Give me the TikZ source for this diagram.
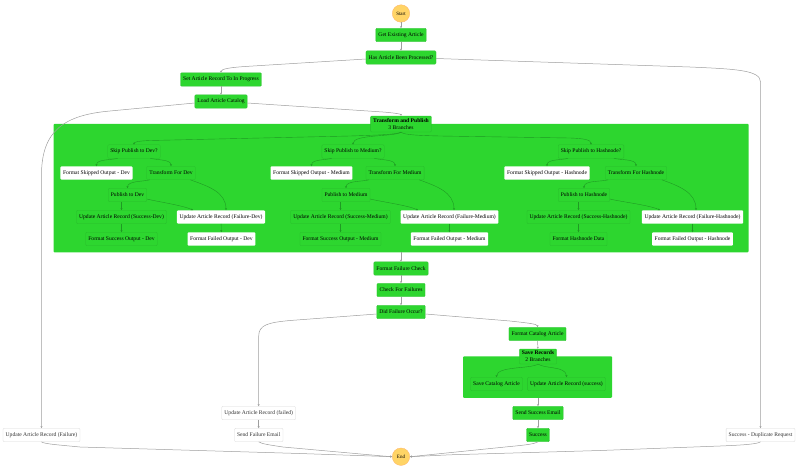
\documentclass[tikz,border=0pt]{standalone}
\usepackage{fontspec}
\setmainfont{Liberation Serif}
\usepackage{tikz}
\usetikzlibrary{arrows.meta}
\definecolor{runGreen}{HTML}{2DD62F}
\definecolor{edgeGreen}{HTML}{1F9A23}
\definecolor{boxGreen}{HTML}{28BC2B}
\definecolor{startYellow}{HTML}{FFD466}

\begin{document}
\begin{tikzpicture}[x=1pt,y=-1pt,
    every node/.style={font=\fontsize{5.6}{7}\selectfont,inner xsep=2.6pt,inner ysep=0pt,minimum height=13.4pt},
    main node/.style={draw=boxGreen,line width=0.3pt,fill=runGreen,rounded corners=1pt},
    sub node/.style={draw=boxGreen,line width=0.3pt,fill=runGreen,rounded corners=1pt},
    done node/.style={fill=white,rounded corners=1pt},
    idle node/.style={draw=black!15,line width=0.3pt,fill=white,rounded corners=1pt,text=black!80},
    end node/.style={circle,draw=orange!60,line width=0.3pt,fill=startYellow,minimum size=17.5pt,inner sep=0pt,font=\fontsize{5}{6}\selectfont},
    group node/.style={fill=runGreen,rounded corners=1pt,minimum height=0pt},
    flow/.style={-{Stealth[length=2pt,width=2pt]},black!38,line width=0.5pt},
    subflow/.style={-{Stealth[length=2pt,width=2pt]},edgeGreen,line width=0.4pt}]
      \useasboundingbox (0,0) rectangle (799,469);

      % containers
      \node[group node,minimum width=695pt,minimum height=128.5pt] (TPbox) at (401,188) {};
      \node[group node,minimum width=149pt,minimum height=41.5pt] (SRbox) at (537.5,377) {};

      % top
      \node[end node] (Start) at (401,13.5) {Start};
      \node[main node] (GetArticle) at (401,35) {Get Existing Article};
      \node[main node] (HasBeen) at (401,57.5) {Has Article Been Processed?};
      \node[main node] (SetProgress) at (221,79.5) {Set Article Record To In Progress};
      \node[main node] (LoadCatalog) at (221,101.5) {Load Article Catalog};
      \node[main node,align=center,minimum height=16pt] (Transform) at (401,124) {\textbf{Transform and Publish}\\3 Branches};

      % dev
      \node[sub node] (SkipDev) at (134,151.5) {Skip Publish to Dev?};
      \node[done node] (SkippedDev) at (96.5,173) {Format Skipped Output - Dev};
      \node[sub node] (TransDev) at (171,173) {Transform For Dev};
      \node[sub node] (PubDev) at (127.5,195) {Publish to Dev};
      \node[sub node] (OkDev) at (121.5,217) {Update Article Record (Success-Dev)};
      \node[done node] (BadDev) at (221,217) {Update Article Record (Failure-Dev)};
      \node[sub node] (OkOutDev) at (121.5,239) {Format Success Output - Dev};
      \node[done node] (BadOutDev) at (221.5,239) {Format Failed Output - Dev};

      % medium
      \node[sub node] (SkipMed) at (353,151.5) {Skip Publish to Medium?};
      \node[done node] (SkippedMed) at (311.5,173) {Format Skipped Output - Medium};
      \node[sub node] (TransMed) at (395,173) {Transform For Medium};
      \node[sub node] (PubMed) at (346,195) {Publish to Medium};
      \node[sub node] (OkMed) at (340.5,217) {Update Article Record (Success-Medium)};
      \node[done node] (BadMed) at (449.5,217) {Update Article Record (Failure-Medium)};
      \node[sub node] (OkOutMed) at (340.5,239) {Format Success Output - Medium};
      \node[done node] (BadOutMed) at (449.5,239) {Format Failed Output - Medium};

      % hashnode
      \node[sub node] (SkipHash) at (591,151.5) {Skip Publish to Hashnode?};
      \node[done node] (SkippedHash) at (547,173) {Format Skipped Output - Hashnode};
      \node[sub node] (TransHash) at (636,173) {Transform For Hashnode};
      \node[sub node] (PubHash) at (584,195) {Publish to Hashnode};
      \node[sub node] (OkHash) at (578.5,217) {Update Article Record (Success-Hashnode)};
      \node[done node] (BadHash) at (692.5,217) {Update Article Record (Failure-Hashnode)};
      \node[sub node] (OkOutHash) at (578.5,239) {Format Hashnode Data};
      \node[done node] (BadOutHash) at (692.5,239) {Format Failed Output - Hashnode};

      % after the branches
      \node[main node] (FailCheck) at (401,268.5) {Format Failure Check};
      \node[main node] (CheckFail) at (401,290) {Check For Failures};
      \node[main node] (DidFail) at (401,312) {Did Failure Occur?};
      \node[main node] (FormatCat) at (537.5,334) {Format Catalog Article};
      \node[main node,align=center,minimum height=15pt] (SaveRec) at (538,356.5) {\textbf{Save Records}\\2 Branches};
      \node[sub node] (SaveCat) at (496.5,384) {Save Catalog Article};
      \node[sub node] (SaveOk) at (566.5,384) {Update Article Record (success)};
      \node[main node] (SendOk) at (538,413) {Send Success Email};
      \node[main node] (Success) at (538,435) {Success};
      \node[idle node] (RecFailed) at (258.7,413) {Update Article Record (failed)};
      \node[idle node] (SendFail) at (258.7,435) {Send Failure Email};
      \node[idle node] (RecFailure) at (41.5,435) {Update Article Record (Failure)};
      \node[idle node] (Duplicate) at (760.5,435) {Success - Duplicate Request};
      \node[end node] (End) at (401,456.7) {End};

      \path[flow] (Start) edge (GetArticle);
      \path[flow] (GetArticle) edge (HasBeen);
      \path[flow] (SetProgress) edge (LoadCatalog);
      \path[flow] (FailCheck) edge (CheckFail);
      \path[flow] (CheckFail) edge (DidFail);
      \path[flow] (TPbox.south) edge (FailCheck);
      \path[flow] (FormatCat) edge (SaveRec);
      \path[flow] (SRbox.south -| SendOk) edge (SendOk);
      \path[flow] (SendOk) edge (Success);
      \path[flow] (RecFailed) edge (SendFail);
      \draw[flow] ([yshift=-1.5pt]HasBeen.west) -- (245,66.5) .. controls (230,67.5) and (221,69) .. (SetProgress.north);
      \draw[flow] ([yshift=-1pt]HasBeen.east) -- (690,67) .. controls (735,69) and (760.5,70) .. (760.5,82) -- (Duplicate.north);
      \draw[flow] ([yshift=-1.5pt]LoadCatalog.west) -- (110,111) .. controls (65,115) and (41.5,130) .. (41.5,175) -- (RecFailure.north);
      \draw[flow] ([yshift=-1.5pt]LoadCatalog.east) -- (383,112) .. controls (395,113) and (401,114) .. (Transform.north);
      \draw[flow] ([yshift=-2pt]DidFail.west) -- (290,320.5) .. controls (268,322.5) and (258.7,325) .. (258.7,336) -- (RecFailed.north);
      \draw[flow] ([yshift=-2pt]DidFail.east) -- (510,321) .. controls (528,323) and (537.5,324) .. (FormatCat.north);
      \draw[flow] (RecFailure.south) .. controls (44,444) and (60,445) .. (80,447) -- (300,453.5) -- (End.west);
      \draw[flow] (SendFail.south) .. controls (262,444) and (270,445) .. (283,447) -- (383,456) -- (End.west);
      \draw[flow] (Success.south) .. controls (534,444) and (526,445) .. (510,446.5) -- (417,456) -- (End.east);
      \draw[flow] (Duplicate.south) .. controls (757,444) and (745,445) .. (720,446) -- (600,450.5) -- (450,454.8) -- (End.east);

      % inside the first container
      \draw[subflow] (Transform.south) .. controls (396,134.5) and (380,135) .. (350,136) -- (150,140.5) .. controls (138,141) and (134,142) .. (SkipDev.north);
      \draw[subflow] (Transform.south) .. controls (395,137) and (353,134) .. (SkipMed.north);
      \draw[subflow] (Transform.south) .. controls (404,135) and (420,135.5) .. (440,136) -- (570,138) .. controls (585,138.5) and (591,140) .. (SkipHash.north);
      \foreach \skipn/\skipped/\trans/\pub/\okrec/\badrec/\okout/\badout/\inA/\inB in {SkipDev/SkippedDev/TransDev/PubDev/OkDev/BadDev/OkOutDev/BadOutDev/5/-28,SkipMed/SkippedMed/TransMed/PubMed/OkMed/BadMed/OkOutMed/BadOutMed/4.5/-31.5,SkipHash/SkippedHash/TransHash/PubHash/OkHash/BadHash/OkOutHash/BadOutHash/3.5/-32.5}{
        \draw[subflow] ([xshift=10pt]\skipn.south west) to[out=195,in=90,looseness=0.8] (\skipped.north);
        \draw[subflow] ([xshift=-10pt]\skipn.south east) to[out=-15,in=90,looseness=0.8] (\trans.north);
        \draw[subflow] ([xshift=3pt]\trans.south west) to[out=195,in=90,looseness=0.8] (\pub.north);
        \draw[subflow] ([xshift=-5pt]\trans.south east) to[out=-20,in=90,looseness=1] ([xshift=\inA pt]\badrec.north);
        \path[subflow] (\okrec |- \pub.south) edge (\okrec);
        \draw[subflow] ([yshift=-4pt]\pub.east) to[out=-14,in=155,looseness=0.6] ([xshift=\inB pt]\badrec.north);
        \path[subflow] (\okrec) edge (\okout);
        \path[subflow] (\badrec) edge (\badout);
      }

      % inside the second container
      \draw[subflow] (SaveRec.south) .. controls (530,369) and (497,366) .. (SaveCat.north);
      \draw[subflow] (SaveRec.south) .. controls (546,369) and (566,366) .. (SaveOk.north);
\end{tikzpicture}
\end{document}
